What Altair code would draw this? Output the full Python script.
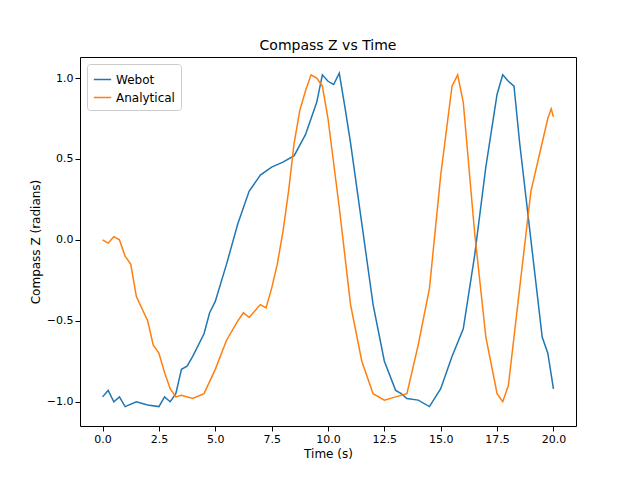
import altair as alt
import pandas as pd

webot_t = [0, 0.25, 0.5, 0.75, 1.0, 1.5, 2.0, 2.5, 2.75, 3.0, 3.25, 3.5, 3.75, 4.0, 4.5,
           4.75, 5.0, 5.5, 6.0, 6.5, 7.0, 7.5, 8.0, 8.5, 9.0, 9.5, 9.75, 10.0, 10.25, 10.5,
           10.75, 11.0, 11.5, 12.0, 12.5, 13.0, 13.25, 13.5, 14.0, 14.5, 15.0, 15.5, 16.0,
           16.5, 17.0, 17.5, 17.75, 18.0, 18.25, 18.5, 19.0, 19.5, 19.75, 20.0]
webot_v = [-0.97, -0.93, -1.0, -0.97, -1.03, -1.0, -1.02, -1.03, -0.97, -1.0, -0.95, -0.8,
           -0.78, -0.72, -0.58, -0.45, -0.38, -0.15, 0.1, 0.3, 0.4, 0.45, 0.48, 0.52, 0.65,
           0.85, 1.02, 0.98, 0.96, 1.03, 0.82, 0.6, 0.1, -0.4, -0.75, -0.93, -0.95, -0.98,
           -0.99, -1.03, -0.92, -0.72, -0.55, -0.1, 0.45, 0.9, 1.02, 0.98, 0.95, 0.6, 0.0,
           -0.6, -0.7, -0.92]

analytical_t = [0, 0.25, 0.5, 0.75, 1.0, 1.25, 1.5, 2.0, 2.25, 2.5, 2.75, 3.0, 3.25, 3.5,
                4.0, 4.5, 5.0, 5.5, 6.0, 6.25, 6.5, 7.0, 7.25, 7.5, 7.75, 8.0, 8.25, 8.5,
                8.75, 9.0, 9.25, 9.5, 9.75, 10.0, 10.5, 11.0, 11.5, 12.0, 12.5, 13.0, 13.5,
                14.0, 14.5, 15.0, 15.5, 15.75, 16.0, 16.5, 17.0, 17.5, 17.75, 18.0, 18.5,
                19.0, 19.5, 19.75, 19.9, 20.0]
analytical_v = [0.0, -0.02, 0.02, 0.0, -0.1, -0.15, -0.35, -0.5, -0.65, -0.7, -0.82, -0.92,
                -0.97, -0.96, -0.98, -0.95, -0.8, -0.62, -0.5, -0.45, -0.48, -0.4, -0.42,
                -0.3, -0.15, 0.05, 0.3, 0.6, 0.8, 0.92, 1.02, 1.0, 0.95, 0.75, 0.2, -0.4,
                -0.75, -0.95, -0.99, -0.97, -0.95, -0.65, -0.3, 0.4, 0.95, 1.02, 0.85, 0.05,
                -0.6, -0.95, -1.0, -0.9, -0.3, 0.3, 0.6, 0.75, 0.81, 0.76]

data = pd.concat([
    pd.DataFrame({"Time": webot_t, "Value": webot_v, "Series": "Webot"}),
    pd.DataFrame({"Time": analytical_t, "Value": analytical_v, "Series": "Analytical"}),
])

chart = (
    alt.Chart(data)
    .mark_line(strokeWidth=1.5)
    .encode(
        x=alt.X("Time:Q", title="Time (s)",
                scale=alt.Scale(domain=[-1, 21], nice=False, zero=False),
                axis=alt.Axis(values=[0, 2.5, 5, 7.5, 10, 12.5, 15, 17.5, 20], format=".1f")),
        y=alt.Y("Value:Q", title="Compass Z (radians)",
                scale=alt.Scale(domain=[-1.15, 1.13], nice=False),
                axis=alt.Axis(values=[-1, -0.5, 0, 0.5, 1], format=".1f")),
        color=alt.Color("Series:N", title=None,
                        scale=alt.Scale(domain=["Webot", "Analytical"],
                                        range=["#1f77b4", "#ff7f0e"]),
                        legend=alt.Legend(orient="top-left", symbolType="stroke",
                                          strokeColor="#cccccc", fillColor="white",
                                          padding=6, offset=7, labelFontSize=12,
                                          symbolSize=300, cornerRadius=3)),
        order=alt.Order("Time:Q"),
    )
    .properties(width=496, height=369, title="Compass Z vs Time", background="white",
                autosize="none",
                padding={"left": 72, "top": 49, "right": 56, "bottom": 46})
    .configure_view(stroke="black")
    .configure_axis(grid=False, domain=False, tickColor="black", labelColor="black",
                    titleColor="black", labelFontSize=11, titleFontSize=12,
                    titleFontWeight="normal", labelFont="DejaVu Sans", titleFont="DejaVu Sans")
    .configure_title(fontSize=14, fontWeight="normal", font="DejaVu Sans")
    .configure_legend(labelFont="DejaVu Sans")
)

chart.save("out.html", embed_options={"renderer": "svg", "actions": False})
